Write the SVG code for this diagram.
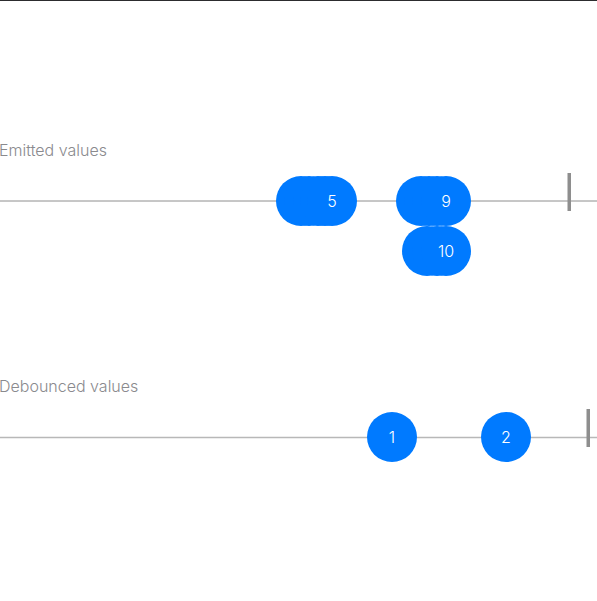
<svg xmlns="http://www.w3.org/2000/svg" width="597" height="601" viewBox="0 0 597 601">
<style>
.lbl{font-family:Inter,"Liberation Sans",sans-serif;font-size:16px;font-weight:300;fill:#8a8a8e}
.num{font-family:Inter,"Liberation Sans",sans-serif;font-size:16px;font-weight:300;fill:#ffffff;text-anchor:middle}
.dot{fill:#007AFF}
.end{fill:#8e8e8e}
</style>
<rect x="0" y="0" width="597" height="601" fill="#ffffff"/>
<line x1="0" y1="0.5" x2="597" y2="0.5" stroke="#2c2c2e" stroke-width="1"/>
<g id="connectors">
<line x1="0" y1="201" x2="597" y2="201" stroke="#8e8e8e" stroke-width="1"/>
<line x1="0" y1="437.5" x2="597" y2="437.5" stroke="#b8b8b8" stroke-width="1.5"/>
</g>
<text class="lbl" x="-1" y="156">Emitted values</text>
<text class="lbl" x="-1" y="392">Debounced values</text>
<rect class="end" x="567.5" y="173" width="3.5" height="38"/>
<rect class="end" x="586.5" y="409" width="3.5" height="38"/>
<g id="emitted-1to5">
<circle class="dot" cx="301" cy="201" r="25"/>
<circle class="dot" cx="309" cy="201" r="25"/>
<circle class="dot" cx="318" cy="201" r="25"/>
<circle class="dot" cx="325" cy="201" r="25"/>
<circle class="dot" cx="332" cy="201" r="25"/>
<text class="num" x="332" y="206.5">5</text>
</g>
<g id="emitted-10">
<circle class="dot" cx="427" cy="251" r="25"/>
<circle class="dot" cx="437" cy="251" r="25"/>
<circle class="dot" cx="446" cy="251" r="25"/>
<text class="num" x="446" y="256.5">10</text>
</g>
<g id="emitted-6to9">
<circle class="dot" cx="421" cy="201" r="25"/>
<circle class="dot" cx="429" cy="201" r="25"/>
<circle class="dot" cx="437" cy="201" r="25"/>
<circle class="dot" cx="446" cy="201" r="25"/>
<text class="num" x="446" y="206.5">9</text>
</g>
<g id="debounced-1">
<circle class="dot" cx="392" cy="437" r="25"/>
<text class="num" x="392" y="442.5">1</text>
</g>
<g id="debounced-2">
<circle class="dot" cx="506" cy="437" r="25"/>
<text class="num" x="506" y="442.5">2</text>
</g>
</svg>
